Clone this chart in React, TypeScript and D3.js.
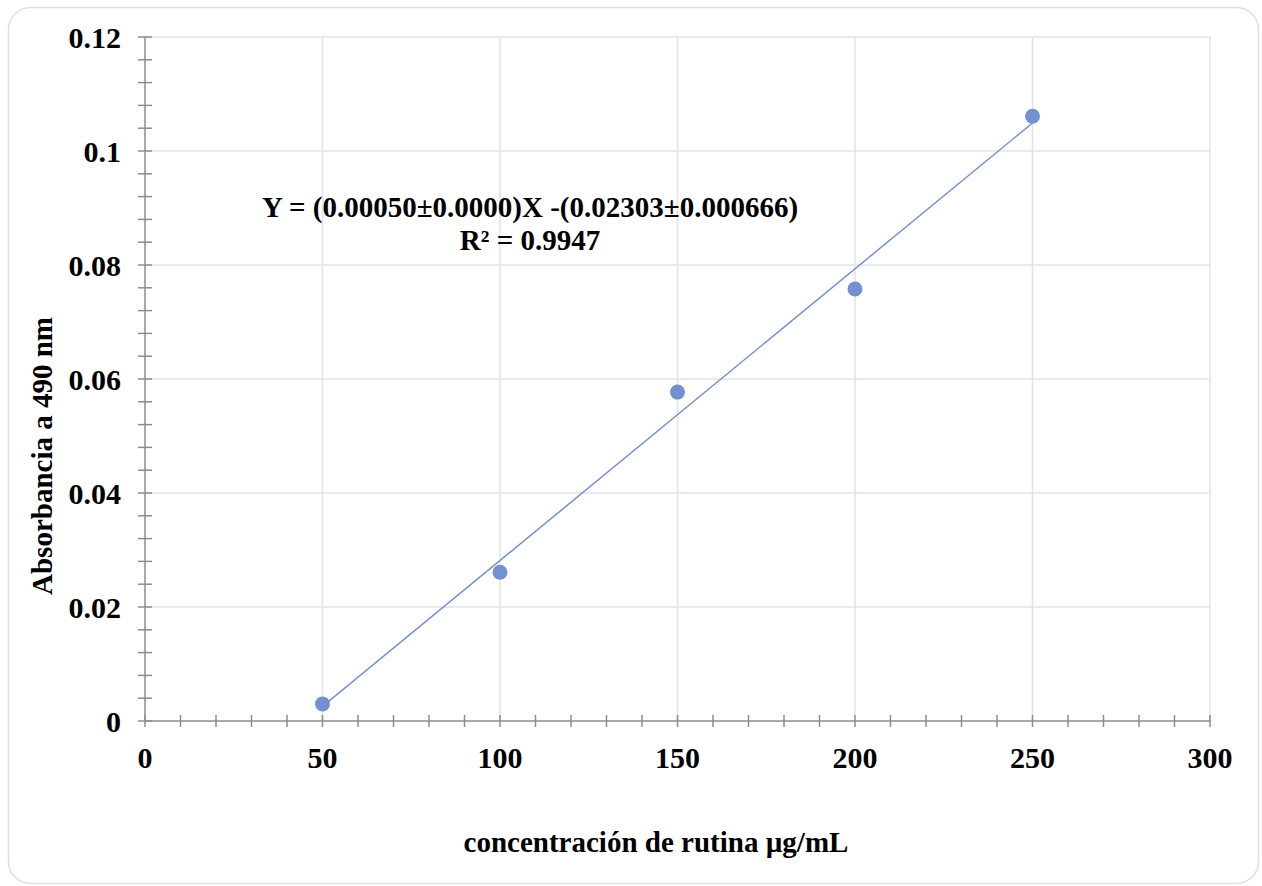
import React from 'react';
import * as d3 from 'd3';

// concentracion (ug/mL) vs absorbancia
const conc = [50, 100, 150, 200, 250];
const absorb = [0.003, 0.0261, 0.0577, 0.0758, 0.1061];
const xTicks = [0, 50, 100, 150, 200, 250, 300];
const yTicks = [0, 0.02, 0.04, 0.06, 0.08, 0.1, 0.12];
const eqLine = 'Y = (0.00050±0.0000)X -(0.02303±0.000666)';
const r2Line = 'R² = 0.9947';
const xTitle = 'concentración de rutina µg/mL';
const yTitle = 'Absorbancia a 490 nm';

const W = 1262;
const H = 886;
const font = '"Liberation Serif", "Times New Roman", serif';

export default function App() {
  const x = d3.scaleLinear().domain([0, 300]).range([145, 1210]);
  const y = d3.scaleLinear().domain([0, 0.12]).range([721, 37]);

  // least squares fit for the trendline
  const mx = d3.mean(conc) as number;
  const my = d3.mean(absorb) as number;
  const sxy = d3.sum(conc, (c, i) => (c - mx) * (absorb[i] - my));
  const sxx = d3.sum(conc, c => (c - mx) * (c - mx));
  const slope = sxy / sxx;
  const icpt = my - slope * mx;
  const fit = [conc[0], conc[conc.length - 1]].map(c => [c, slope * c + icpt] as [number, number]);
  const line = d3.line<[number, number]>().x(d => x(d[0])).y(d => y(d[1]));

  const xMinor = d3.range(0, 301, 10);
  const yMinor = d3.range(0, 0.1201, 0.004);
  const axisCol = '#8c8c8c';
  const gridCol = '#e0e3ea';

  return (
    <svg width={W} height={H} style={{ position: 'absolute', left: 0, top: 0 }} fontFamily={font}>
      <rect x={8.5} y={7.5} width={1250} height={876} rx={22} fill='#ffffff' stroke='#dcdfe4' strokeWidth={1.5} />

      {/* grid */}
      {xTicks.filter(t => t > 0).map(t => (
        <line key={'gx' + t} x1={x(t)} x2={x(t)} y1={y(0)} y2={y(0.12)} stroke={gridCol} strokeWidth={1.5} />
      ))}
      {yTicks.filter(t => t > 0).map(t => (
        <line key={'gy' + t} x1={x(0)} x2={x(300)} y1={y(t)} y2={y(t)} stroke={gridCol} strokeWidth={1.5} />
      ))}

      {/* axes */}
      <line x1={x(0)} x2={x(0)} y1={y(0)} y2={y(0.12)} stroke={axisCol} strokeWidth={1.5} />
      <line x1={x(0)} x2={x(300)} y1={y(0)} y2={y(0)} stroke={axisCol} strokeWidth={1.5} />
      {xMinor.map(t => (
        <line key={'tx' + t} x1={x(t)} x2={x(t)} y1={y(0) - 6} y2={y(0) + 6} stroke={axisCol} strokeWidth={1.5} />
      ))}
      {yMinor.map(t => (
        <line key={'ty' + t} x1={x(0) - 7} x2={x(0) + 7} y1={y(t)} y2={y(t)} stroke={axisCol} strokeWidth={1.5} />
      ))}

      {/* tick labels */}
      {yTicks.map(t => (
        <text key={'ly' + t} x={121} y={y(t)} dy='0.35em' textAnchor='end' fontSize={30} fontWeight='bold'>
          {d3.format('~g')(t)}
        </text>
      ))}
      {xTicks.map(t => (
        <text key={'lx' + t} x={x(t)} y={768} textAnchor='middle' fontSize={30} fontWeight='bold'>
          {t}
        </text>
      ))}

      {/* trendline and points */}
      <path d={line(fit) || ''} fill='none' stroke='#7592cf' strokeWidth={1.5} />
      {conc.map((c, i) => (
        <circle key={'p' + i} cx={x(c)} cy={y(absorb[i])} r={7.5} fill='#7391d1' />
      ))}

      {/* equation */}
      <text x={530} y={217} textAnchor='middle' fontSize={29} fontWeight='bold'>{eqLine}</text>
      <text x={530} y={250} textAnchor='middle' fontSize={29} fontWeight='bold'>{r2Line}</text>

      {/* titles */}
      <text x={656} y={852} textAnchor='middle' fontSize={29} fontWeight='bold'>{xTitle}</text>
      <text transform={`translate(52,${456}) rotate(-90)`} textAnchor='middle' fontSize={29} fontWeight='bold'>{yTitle}</text>
    </svg>
  );
}
